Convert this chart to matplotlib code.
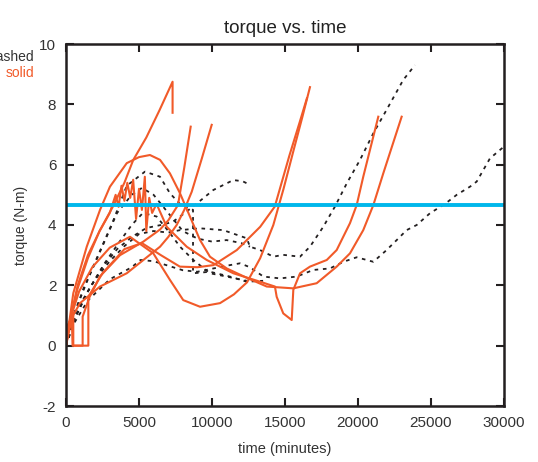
import matplotlib

matplotlib.use("Agg")

import matplotlib.pyplot as plt  # noqa: E402

plt.rcParams["font.family"] = ["Liberation Sans", "DejaVu Sans"]
plt.rcParams["axes.unicode_minus"] = False

# ---------------------------------------------------------------------------
# data (time in minutes, torque in N-m)
# ---------------------------------------------------------------------------

# solid runs
s1_t = [0, 300, 800, 1500, 2300, 3200, 4000, 4600, 5500, 6400, 7300, 7300]
s1_v = [0, 0.9, 1.9, 2.9, 3.8, 4.6, 5.4, 6.15, 6.9, 7.8, 8.75, 7.72]

s2_t = [0, 50, 960, 2330, 4160, 5300, 6440, 7000, 7580, 8100, 8610, 9300,
        9980]
s2_v = [0, 0.63, 1.41, 1.96, 2.40, 2.84, 3.28, 3.6, 4.0, 4.5, 5.1, 6.2,
        7.32]

s3_t = [0, 270, 500, 500, 1140, 1140, 1600, 2330, 3700, 5300, 6440, 7000,
        7670, 8100, 8540]
s3_v = [0, 0.85, 1.1, 0, 0, 0.96, 1.6, 2.3, 3.0, 3.45, 3.85, 4.15,
        4.66, 5.9, 7.26]

s4_t = [0, 500, 1420, 2330, 3010, 4160, 5000, 5750, 6440, 7120, 7810, 8490,
        9180, 9860, 11010, 12380, 13750, 15570, 17170, 18540, 19450, 20360,
        21050, 21730, 22990]
s4_v = [0, 1.74, 3.28, 4.50, 5.27, 6.05, 6.25, 6.32, 6.16, 5.71, 5.05, 4.28,
        3.50, 2.95, 2.56, 2.25, 1.96, 1.90, 2.07, 2.62, 3.06, 3.83,
        4.66, 5.71, 7.59]

s5_t = [0, 300, 900, 1800, 3000, 4380, 5980, 7120, 8030, 9180, 10550, 11500,
        12400, 13300, 14200, 14900, 15600, 16200, 16710]
s5_v = [0, 0.9, 1.8, 2.6, 3.25, 3.61, 3.06, 2.18, 1.51, 1.29, 1.41, 1.7,
        2.1, 2.9, 4.0, 5.2, 6.5, 7.6, 8.57]

s6_t = [0, 400, 450, 1530, 1530, 2500, 4000, 5200, 6500, 7800, 9000, 10100,
        11700, 13300, 14300, 15300, 16000, 16500]
s6_v = [0, 0.9, 0, 0, 1.62, 2.4, 3.2, 3.4, 3.0, 2.62, 2.6, 2.67,
        3.17, 3.94, 4.61, 6.3, 7.4, 8.2]

s7_t = [0, 300, 800, 1500, 2300, 3000, 3400, 3600, 3800, 4000, 4200, 4400,
        4600, 4800, 5000, 5200, 5400, 5500, 5700, 5900, 6200, 6900, 8270,
        9640, 11460, 13290, 14310, 14430, 14880, 15460, 15570, 16030, 16710,
        17860, 18540, 19450, 19910, 20360, 21390]
s7_v = [0, 0.9, 2.0, 3.0, 3.8, 4.4, 5.0, 4.6, 5.3, 4.8, 5.4, 4.9,
        5.5, 4.2, 5.2, 4.5, 5.6, 3.8, 4.9, 4.4, 4.7, 3.94, 3.28,
        2.84, 2.40, 2.12, 1.96, 1.62, 1.07, 0.85, 1.85, 2.40, 2.62,
        2.84, 3.17, 4.06, 4.66, 5.60, 7.59]

# dashed runs
d1_t = [0, 300, 1000, 2000, 3000, 4000, 5000, 6000, 7000, 7810, 9180, 10770,
        12380, 12600, 13290, 14200, 14880, 16030, 16710, 17620, 18420, 19230,
        20140, 21050, 21960, 23100, 23900]
d1_v = [0, 0.5, 1.4, 2.2, 2.8, 3.3, 3.7, 3.8, 3.75, 3.83, 3.89, 3.83,
        3.56, 3.28, 3.17, 2.95, 3.01, 2.95, 3.28, 3.94, 4.61, 5.38,
        6.16, 7.04, 7.82, 8.81, 9.30]

d2_t = [0, 500, 1500, 3000, 4500, 5100, 6000, 7000, 8000, 9000, 10000, 11000,
        11920, 12600, 13520, 14660, 15800, 16940, 18080, 19000, 19910, 20600,
        21050, 21960, 22650, 23330, 24020, 24930, 25960, 26760, 27670, 28130,
        28580, 29040, 30000]
d2_v = [0, 0.7, 1.5, 2.2, 2.6, 2.84, 2.8, 2.65, 2.5, 2.45, 2.55, 2.65,
        2.73, 2.6, 2.29, 2.23, 2.29, 2.51, 2.56, 2.78, 2.93, 2.84,
        2.78, 3.17, 3.5, 3.83, 4.0, 4.39, 4.7, 5.0, 5.27, 5.44,
        5.82, 6.21, 6.6]

d3_t = [0, 400, 1200, 2200, 3200, 4160, 5410, 6440, 7120, 7800, 8700, 8700,
        9860, 11230, 12380, 13500]
d3_v = [0, 0.8, 1.9, 3.0, 4.1, 5.3, 5.77, 5.6, 5.05, 4.7, 4.5, 2.4,
        2.45, 2.29, 2.12, 2.15]

d4_t = [0, 500, 1500, 2500, 3500, 4500, 5500, 6500, 7300, 7810, 8700, 10090,
        11460, 12100, 12600]
d4_v = [0, 0.8, 1.8, 2.6, 3.2, 3.6, 3.9, 4.0, 4.1, 4.28, 4.61, 5.16,
        5.49, 5.45, 5.33]

d5_t = [0, 500, 1500, 2500, 3500, 4500, 5200, 6000, 7000, 8000, 9000, 10000,
        11000, 12000, 12600]
d5_v = [0, 1.0, 2.2, 3.3, 4.4, 5.0, 5.23, 5.0, 4.4, 3.8, 3.55, 3.45,
        3.5, 3.4, 3.28]

d6_t = [0, 600, 1500, 2600, 3600, 4500, 5270, 6210, 7120, 7810, 8720, 9860,
        11010, 12380]
d6_v = [0, 0.9, 1.8, 2.7, 3.4, 4.0, 4.40, 4.28, 3.73, 3.28, 2.84, 2.40,
        2.29, 2.15]

threshold = 4.65

x_ticks = [0, 5000, 10000, 15000, 20000, 25000, 30000]
y_ticks = [-2, 0, 2, 4, 6, 8, 10]

ORANGE = "#F15A29"
DARK = "#231F20"
BLUE = "#00B7EB"

solid_runs = [(s1_t, s1_v), (s2_t, s2_v), (s3_t, s3_v), (s4_t, s4_v),
              (s5_t, s5_v), (s6_t, s6_v), (s7_t, s7_v)]
dashed_runs = [(d1_t, d1_v), (d2_t, d2_v), (d3_t, d3_v), (d4_t, d4_v),
               (d5_t, d5_v), (d6_t, d6_v)]

fig = plt.figure(figsize=(5.38, 4.62), dpi=100)
ax = fig.add_axes([66 / 538, 1 - 406 / 462, 438 / 538, 362 / 462])

for t, v in dashed_runs:
    ax.plot(t, v, color=DARK, linewidth=1.3, linestyle=(0, (2, 2.6)))
for t, v in solid_runs:
    ax.plot(t, v, color=ORANGE, linewidth=1.5)

ax.axhline(threshold, color=BLUE, linewidth=2.8)

ax.set_xlim(0, 30000)
ax.set_ylim(-2, 10)
ax.set_xticks(x_ticks)
ax.set_yticks(y_ticks)
ax.tick_params(direction="in", length=6, width=1.5, top=True, right=True,
               labelsize=11, pad=7, colors=DARK, labelcolor="#333333")
for spine in ax.spines.values():
    spine.set_linewidth(1.8)
    spine.set_color(DARK)

ax.set_title("torque vs. time", fontsize=13.5, color="#222222", pad=8)
ax.set_xlabel("time (minutes)", fontsize=10.5, color="#333333", labelpad=9)
ax.set_ylabel("torque (N-m)", fontsize=10, color="#333333", labelpad=8)

fig.text(34 / 538, 1 - 57 / 462, "dashed", ha="right", va="center",
         fontsize=10, color="#333333")
fig.text(34 / 538, 1 - 73 / 462, "solid", ha="right", va="center",
         fontsize=10, color=ORANGE)

fig.savefig("out.png", dpi=100)
plt.close(fig)
